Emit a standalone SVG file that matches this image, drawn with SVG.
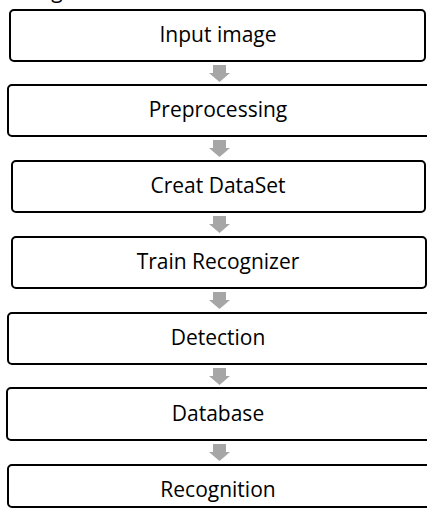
<svg xmlns="http://www.w3.org/2000/svg" width="427" height="510" viewBox="0 0 427 510">
<style>
.box{fill:#fff;stroke:#000;stroke-width:2;}
.lbl{font-family:"Open Sans","Liberation Sans",sans-serif;font-size:21px;fill:#000;text-anchor:middle;}
.arr{fill:#a6a6a6;}
</style>
<defs>
<path id="dn" class="arr" d="M-6.5,0 H6.5 V8 H10.5 L0,17 L-10.5,8 H-6.5 Z"/>
</defs>
<text class="lbl" x="57" y="-2">g</text>
<g id="connectors">
<use href="#dn" x="219.5" y="65"/>
<use href="#dn" x="219.5" y="140"/>
<use href="#dn" x="219.5" y="216"/>
<use href="#dn" x="219.5" y="292"/>
<use href="#dn" x="219.5" y="368"/>
<use href="#dn" x="219.5" y="444"/>
</g>
<g id="n1"><rect class="box" x="10" y="10" width="415" height="51" rx="4"/><text class="lbl" x="218" y="42">Input image</text></g>
<g id="n2"><rect class="box" x="8" y="85" width="422" height="51" rx="4"/><text class="lbl" x="218" y="117">Preprocessing</text></g>
<g id="n3"><rect class="box" x="12" y="161" width="413" height="51" rx="4"/><text class="lbl" x="218" y="193">Creat DataSet</text></g>
<g id="n4"><rect class="box" x="12" y="237" width="414" height="51" rx="4"/><text class="lbl" x="218" y="269">Train Recognizer</text></g>
<g id="n5"><rect class="box" x="8" y="313" width="422" height="51" rx="4"/><text class="lbl" x="218" y="345">Detection</text></g>
<g id="n6"><rect class="box" x="7" y="388" width="423" height="52" rx="4"/><text class="lbl" x="218" y="421">Database</text></g>
<g id="n7"><rect class="box" x="8" y="465" width="422" height="42" rx="4"/><text class="lbl" x="218" y="497">Recognition</text></g>
</svg>
